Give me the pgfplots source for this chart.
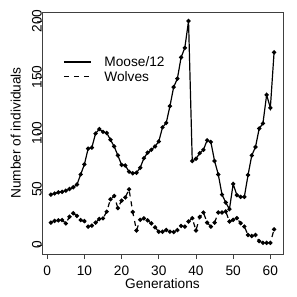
\documentclass[border=0pt]{standalone}
\usepackage{pgfplots}
\pgfplotsset{compat=1.18}
\usepackage{fontspec}
\setmainfont{Liberation Sans}
\begin{document}
\begin{tikzpicture}
\path[use as bounding box] (-42pt,-43pt) rectangle (255pt,254pt);
\begin{axis}[
  at={(0,0)}, anchor=south west,
  scale only axis, width=241pt, height=242pt,
  xmin=-1.4, xmax=63.4, ymin=-8, ymax=208,
  xtick={0,10,...,60}, ytick={0,50,...,200},
  xtick pos=left, ytick pos=left,
  tick align=outside, major tick length=5pt,
  tick style={black!75, line width=0.7pt},
  axis line style={black!75, line width=0.7pt},
  /pgf/number format/assume math mode=true,
  every tick label/.append style={font=\fontsize{13.7}{16}\selectfont, inner sep=0pt},
  xticklabel style={anchor=north},
  yticklabel style={rotate=90, anchor=south},
  xticklabel shift=6.3pt,
  yticklabel shift=-5pt,
  xlabel={Generations}, ylabel={Number of individuals},
  every axis x label/.style={at={(axis description cs:0.5,0)}, anchor=north, yshift=-24.5pt, inner sep=0pt, font=\fontsize{13.7}{16}\selectfont},
  every axis y label/.style={at={(axis description cs:-0.0871,0.5)}, rotate=90, anchor=south, inner sep=0pt, font=\fontsize{13.7}{16}\selectfont},
  legend style={at={(axis description cs:0.0871,0.818)}, anchor=north west, draw=none, fill=none, inner sep=0pt, row sep=3.5pt, column sep=13pt, nodes={inner sep=0pt}, font=\fontsize{13.7}{16}\selectfont},
  legend cell align=left,
  legend image code/.code={\draw[#1] (0pt,0pt) -- (27pt,0pt);},
]
\addplot[black, line width=1.2pt, mark=*, mark size=1.5pt, mark options={solid}] coordinates {
(1,45) (2,46) (3,47) (4,47.5) (5,48.5) (6,50) (7,51.5) (8,54) (9,63) (10,72)
(11,86) (12,87) (13,99.5) (14,103.5) (15,101) (16,100) (17,94) (18,88) (19,80) (20,71.5)
(21,71) (22,65.5) (23,64) (24,64.5) (25,69) (26,77.5) (27,82.5) (28,85) (29,88) (30,92.5)
(31,105) (32,109) (33,124) (34,141) (35,148.5) (36,167.5) (37,176) (38,200) (39,75) (40,77)
(41,82) (42,85) (43,93.5) (44,92) (45,75) (46,63) (47,45) (48,38) (49,32) (50,54.5)
(51,44.5) (52,43) (53,43) (54,62.5) (55,80) (56,87.5) (57,104) (58,108.5) (59,134) (60,122.5)
(61,172)
};
\addlegendentry{Moose/12}
\addplot[black, line width=1.2pt, dash pattern=on 5pt off 5pt, mark=*, mark size=1.5pt, mark options={solid}] coordinates {
(1,20) (2,21.5) (3,22) (4,22.3) (5,19.3) (6,25.3) (7,28.3) (8,26) (9,22.3) (10,21.4)
(11,16.4) (12,17.3) (13,20) (14,23.2) (15,23.8) (16,29.8) (17,40.8) (18,43.8) (19,33) (20,39.6)
(21,42.5) (22,49.7) (23,29.5) (24,13) (25,22.5) (26,23.8) (27,22) (28,19.3) (29,15.8) (30,11.9)
(31,11.9) (32,13.4) (33,11.9) (34,11.6) (35,13.4) (36,17) (37,16.4) (38,21) (39,24) (40,13)
(41,25) (42,29) (43,20) (44,16.5) (45,20) (46,29) (47,29) (48,30) (49,21) (50,22.5)
(51,24) (52,19.5) (53,16.5) (54,9) (55,8) (56,9) (57,3.5) (58,2) (59,2) (60,2)
(61,14)
};
\addlegendentry{Wolves}
\end{axis}
\end{tikzpicture}
\end{document}
